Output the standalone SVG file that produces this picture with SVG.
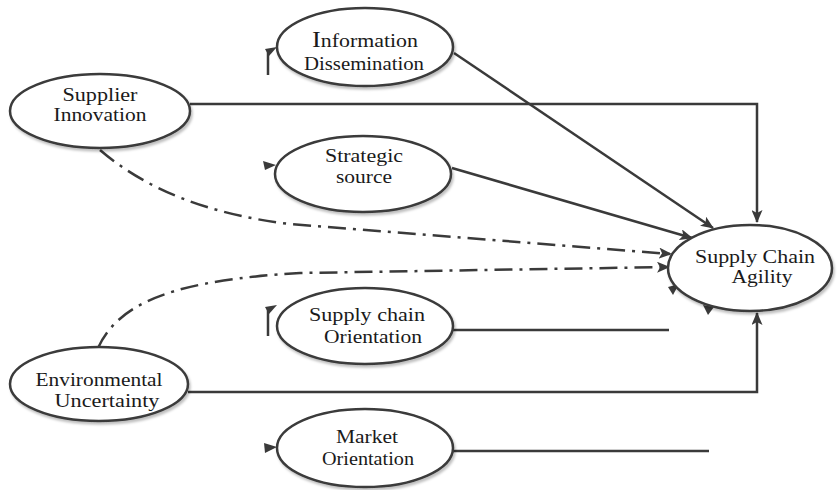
<svg xmlns="http://www.w3.org/2000/svg" width="837" height="490" viewBox="0 0 837 490">
<style>
.node ellipse{fill:#fff;stroke:#3a3a3a;stroke-width:2.5}
.node text{font-family:"Liberation Serif","Times New Roman",serif;font-size:19px;fill:#1a1a1a;text-anchor:middle}
.conn path{fill:none;stroke:#3a3a3a;stroke-width:2.5}
.conn .dd{stroke-dasharray:18 7 3 7}
.mark{fill:#3a3a3a;stroke:none}
.stub{fill:none;stroke:#3a3a3a;stroke-width:2.5}
</style>
<defs>
<marker id="ah" markerUnits="userSpaceOnUse" markerWidth="13" markerHeight="11" refX="12" refY="5.5" orient="auto">
<path d="M0,0 L13,5.5 L0,11 L3,5.5 z" fill="#3a3a3a"/>
</marker>
<filter id="sh" x="-10%" y="-10%" width="125%" height="130%">
<feDropShadow dx="1.5" dy="2.5" stdDeviation="1.2" flood-color="#000" flood-opacity="0.25"/>
</filter>
</defs>
<rect width="837" height="490" fill="#fff"/>
<g class="conn" id="connectors">
<path d="M190,104 H757 V222" marker-end="url(#ah)"/>
<path d="M454,53 L713,228" marker-end="url(#ah)"/>
<path d="M452,168 L692,238" marker-end="url(#ah)"/>
<path class="dd" d="M100,150 Q170,210 290,224 L671,254" marker-end="url(#ah)"/>
<path class="dd" d="M98,348 C120,300 180,280 300,273 L669,267" marker-end="url(#ah)"/>
<path d="M188,392 H757 V313" marker-end="url(#ah)"/>
<path d="M453,330 H669"/>
<path d="M453,451 H709"/>
</g>
<g id="stubs">
<path class="stub" d="M268,75 V50"/>
<polygon class="mark" points="265,49 277,47 269,56"/>
<polygon class="mark" points="263,161 276,165 265,170"/>
<path class="stub" d="M268,336 V308"/>
<polygon class="mark" points="265,307 277,305 269,314"/>
<polygon class="mark" points="264,443 277,447 265,453"/>
<polygon class="mark" points="668,287 679,284 673,295"/>
<polygon class="mark" points="703,305 714,307 708,315"/>
</g>
<g class="node" id="information-dissemination">
<ellipse cx="365" cy="47" rx="88" ry="39" filter="url(#sh)"/>
<text x="365" y="47" textLength="106" lengthAdjust="spacingAndGlyphs"><tspan font-size="23">I</tspan>nformation</text>
<text x="364" y="70" textLength="120" lengthAdjust="spacingAndGlyphs">Dissemination</text>
</g>
<g class="node" id="supplier-innovation">
<ellipse cx="100" cy="111" rx="90" ry="37" filter="url(#sh)"/>
<text x="100" y="101" textLength="75" lengthAdjust="spacingAndGlyphs">Supplier</text>
<text x="100" y="121" textLength="93" lengthAdjust="spacingAndGlyphs">Innovation</text>
</g>
<g class="node" id="strategic-source">
<ellipse cx="363" cy="174" rx="88" ry="38" filter="url(#sh)"/>
<text x="364" y="162" textLength="78" lengthAdjust="spacingAndGlyphs">Strategic</text>
<text x="364" y="183" textLength="56" lengthAdjust="spacingAndGlyphs">source</text>
</g>
<g class="node" id="supply-chain-agility">
<ellipse cx="750" cy="268" rx="82" ry="43" filter="url(#sh)"/>
<text x="755" y="263" textLength="120" lengthAdjust="spacingAndGlyphs">Supply Chain</text>
<text x="762" y="283" textLength="61" lengthAdjust="spacingAndGlyphs">Agility</text>
</g>
<g class="node" id="supply-chain-orientation">
<ellipse cx="365" cy="326" rx="88" ry="38" filter="url(#sh)"/>
<text x="367" y="321" textLength="116" lengthAdjust="spacingAndGlyphs">Supply chain</text>
<text x="373" y="343" textLength="98" lengthAdjust="spacingAndGlyphs">Orientation</text>
</g>
<g class="node" id="environmental-uncertainty">
<ellipse cx="99" cy="384" rx="89" ry="37" filter="url(#sh)"/>
<text x="99" y="386" textLength="127" lengthAdjust="spacingAndGlyphs">Environmental</text>
<text x="107" y="407" textLength="105" lengthAdjust="spacingAndGlyphs">Uncertainty</text>
</g>
<g class="node" id="market-orientation">
<ellipse cx="365" cy="448" rx="88" ry="39" filter="url(#sh)"/>
<text x="367" y="443" textLength="62" lengthAdjust="spacingAndGlyphs">Market</text>
<text x="368" y="465" textLength="92" lengthAdjust="spacingAndGlyphs">Orientation</text>
</g>
</svg>
